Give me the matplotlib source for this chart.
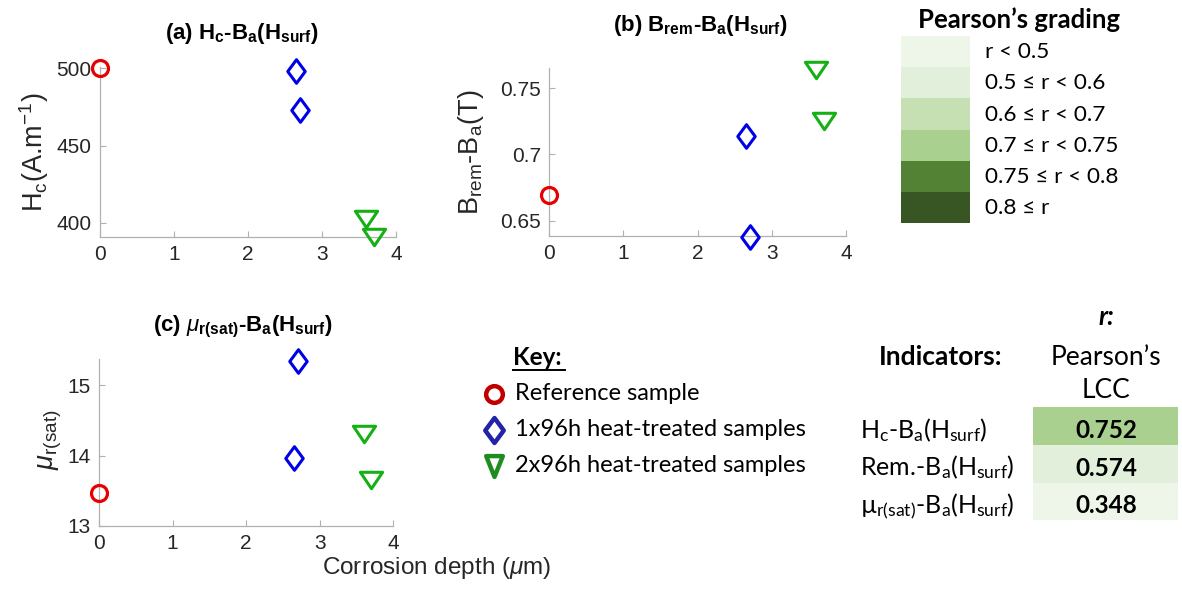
import matplotlib
matplotlib.use("Agg")
import matplotlib.pyplot as plt
from matplotlib.path import Path
from matplotlib.markers import MarkerStyle
from matplotlib.patches import Rectangle

W, H = 1182, 592
plt.rcParams['font.family'] = ['Liberation Sans', 'DejaVu Sans']
plt.rcParams['mathtext.fontset'] = 'custom'
plt.rcParams['mathtext.rm'] = 'Liberation Sans'
plt.rcParams['mathtext.it'] = 'Liberation Sans:italic'
plt.rcParams['mathtext.bf'] = 'Liberation Sans:bold'
plt.rcParams['mathtext.default'] = 'regular'

# ---- measured samples: corrosion depth (um) and indicator values ----
depth_ref = [0.0]
depth_1x = [2.65, 2.70]
depth_2x = [3.60, 3.70]

hc_ref = [500.0]
hc_1x = [498.0, 473.0]
hc_2x = [402.5, 391.0]

brem_ref = [0.669]
brem_1x = [0.714, 0.638]
brem_2x = [0.764, 0.725]

mu_ref = [13.47]
mu_1x = [13.96, 15.35]
mu_2x = [14.31, 13.66]

x_ticks = [0, 1, 2, 3, 4]
hc_ticks = [400, 450, 500]
brem_ticks = [0.65, 0.70, 0.75]
brem_ticklabels = ['0.65', '0.7', '0.75']
mu_ticks = [13, 14, 15]

# ---- correlation summary ----
grade_labels = ['r < 0.5', '0.5 \u2264 r < 0.6', '0.6 \u2264 r < 0.7',
                '0.7 \u2264 r < 0.75', '0.75 \u2264 r < 0.8', '0.8 \u2264 r']
grade_colors = ['#eef6ea', '#e2efda', '#c6e0b4', '#a9d08e', '#548235', '#375623']

indicator_labels = ['H$_c$-B$_a$(H$_{surf}$)', 'Rem.-B$_a$(H$_{surf}$)',
                    '\u00b5$_{r(sat)}$-B$_a$(H$_{surf}$)']
pearson_r = [0.752, 0.574, 0.348]
cell_colors = ['#a9d08e', '#e2efda', '#eef6ea']

key_labels = ['Reference sample', '1x96h heat-treated samples',
              '2x96h heat-treated samples']

# ---- styling ----
RED, BLUE, GREEN = '#e80000', '#0000e6', '#14b014'
KEY_COLORS = ['#c00000', '#2323a8', '#1f8c1f']
SPINE = '#b0b0b0'
TXT = '#262626'
CAL = ['Lato', 'DejaVu Sans']

diamond = MarkerStyle(Path([(0, 1), (0.74, 0), (0, -1), (-0.74, 0), (0, 1)], closed=True),
                      joinstyle='miter')
tri_down = MarkerStyle(Path([(-1, 0.74), (1, 0.74), (0, -0.74), (-1, 0.74)], closed=True),
                       joinstyle='miter')
key_tri = MarkerStyle(Path([(-0.8, 1), (0.8, 1), (0, -1), (-0.8, 1)], closed=True),
                      joinstyle='miter')

fig = plt.figure(figsize=(W / 100, H / 100), dpi=100)


def px_axes(left, top, right, bottom):
    return fig.add_axes([left / W, 1 - bottom / H, (right - left) / W, (bottom - top) / H])


def style_axes(ax, yticks, ylim, yticklabels=None):
    ax.set_xlim(0, 4)
    ax.set_ylim(*ylim)
    ax.set_xticks(x_ticks)
    ax.set_yticks(yticks)
    if yticklabels is not None:
        ax.set_yticklabels(yticklabels)
    for s in ('top', 'right'):
        ax.spines[s].set_visible(False)
    for s in ('left', 'bottom'):
        ax.spines[s].set_color(SPINE)
        ax.spines[s].set_linewidth(0.9)
    ax.tick_params(direction='in', length=4, width=0.8, color=SPINE,
                   labelcolor=TXT, labelsize=15, pad=6)
    ax.set_facecolor('none')


def draw_series(ax, ref, s1, s2):
    kw = dict(linestyle='none', markerfacecolor='none', clip_on=False, zorder=5)
    ax.plot(depth_ref, ref, marker='o', markersize=11.5, markeredgewidth=2.3,
            markeredgecolor=RED, **kw)
    ax.plot(depth_1x, s1, marker=diamond, markersize=17, markeredgewidth=2.2,
            markeredgecolor=BLUE, **kw)
    ax.plot(depth_2x, s2, marker=tri_down, markersize=16, markeredgewidth=2.2,
            markeredgecolor=GREEN, **kw)


ax_a = px_axes(100, 66.5, 396, 236.7)
style_axes(ax_a, hc_ticks, (391, 501.2))
draw_series(ax_a, hc_ref, hc_1x, hc_2x)

ax_b = px_axes(549.3, 68.3, 846, 236)
style_axes(ax_b, brem_ticks, (0.6384, 0.7651), brem_ticklabels)
draw_series(ax_b, brem_ref, brem_1x, brem_2x)

ax_c = px_axes(99, 359.3, 393.3, 526)
style_axes(ax_c, mu_ticks, (13, 15.37))
draw_series(ax_c, mu_ref, mu_1x, mu_2x)

# overlay in pixel coordinates for titles, labels, key and tables
ov = fig.add_axes([0, 0, 1, 1])
ov.set_xlim(0, W)
ov.set_ylim(H, 0)
ov.axis('off')
ov.set_zorder(-1)

tkw = dict(ha='center', va='baseline', fontsize=16, fontweight='bold', color='black')
ov.text(242, 39.5, '(a) H$_c$-B$_a$(H$_{surf}$)', **tkw)
ov.text(700, 31, '(b) B$_{rem}$-B$_a$(H$_{surf}$)', **tkw)
ov.text(243, 331.5, r'(c) $\mathit{\mu}_{r(sat)}$-B$_a$(H$_{surf}$)', **tkw)

lkw = dict(ha='center', va='center', rotation=90, fontsize=19.5, color=TXT)
ov.text(34, 152, 'H$_c$(A.m$^{-1}$)', **lkw)
ov.text(471, 152, 'B$_{rem}$-B$_a$(T)', **lkw)
ov.text(50.5, 440, r'$\mathit{\mu}_{r(sat)}$', **lkw)
ov.text(437, 568, r'Corrosion depth ($\mathit{\mu}$m)', ha='center', va='center',
        fontsize=17.5, color=TXT)

# key
ov.text(513, 365, 'Key:', ha='left', va='baseline', fontsize=17.5, fontweight='bold',
        family=CAL, color='black')
ov.plot([513, 565], [370, 370], color='black', lw=1.4)
key_y = [394, 430, 466]
key_markers = [('o', 12), (diamond, 18), (key_tri, 15)]
for (m, ms), col, y, lab in zip(key_markers, KEY_COLORS, key_y, key_labels):
    ov.plot([494], [y], marker=m, markersize=ms, markeredgewidth=3.2,
            markeredgecolor=col, markerfacecolor='none', linestyle='none')
    ov.text(515, y + 6, lab, ha='left', va='baseline', fontsize=17, family=CAL,
            color='black')

# Pearson's grading scale
ov.text(1019, 28.3, 'Pearson\u2019s grading', ha='center', va='baseline', fontsize=18.5,
        fontweight='bold', family=CAL, color='black')
row_h = (223.3 - 36) / len(grade_labels)
for i, (lab, col) in enumerate(zip(grade_labels, grade_colors)):
    top = 36 + i * row_h
    ov.add_patch(Rectangle((901, top), 69, row_h, facecolor=col, edgecolor='none'))
    ov.text(985, top + row_h / 2 + 6.5, lab, ha='left', va='baseline', fontsize=16.2,
            family=CAL, color='black')

# indicator table
ov.text(1106, 325, 'r:', ha='center', va='baseline', fontsize=18.5, fontweight='bold',
        fontstyle='italic', family=CAL, color='black')
ov.text(941, 365, 'Indicators:', ha='center', va='baseline', fontsize=19,
        fontweight='bold', family=CAL, color='black')
ov.text(1106, 365, 'Pearson\u2019s', ha='center', va='baseline', fontsize=19,
        family=CAL, color='black')
ov.text(1106, 398.5, 'LCC', ha='center', va='baseline', fontsize=19, family=CAL,
        color='black')
cell_top = [407.3, 445, 482.7]
cell_h = 37.7
for lab, r, col, top in zip(indicator_labels, pearson_r, cell_colors, cell_top):
    ov.add_patch(Rectangle((1033, top), 145, cell_h, facecolor=col, edgecolor='none'))
    base = top + 30.5
    ov.text(860, base, lab, ha='left', va='baseline', fontsize=18, family=CAL,
            color='black')
    ov.text(1106, base, f'{r:.3f}', ha='center', va='baseline', fontsize=17.5,
            fontweight='bold', family=CAL, color='black')

fig.savefig('out.png', dpi=100, facecolor='white')
